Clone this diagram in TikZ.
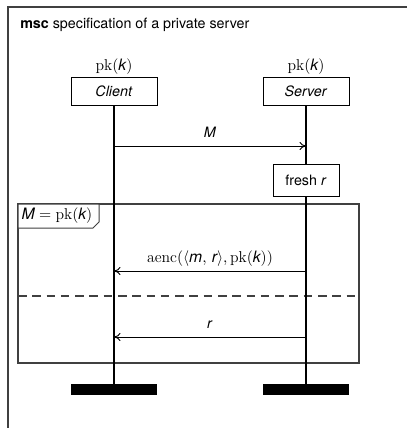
\documentclass[tikz,border=0pt]{standalone}
\usepackage{fontspec}
\setsansfont{TeX Gyre Heros}
\usepackage{tikz}
\usetikzlibrary{positioning, arrows.meta, calc}

\begin{document}
\begin{tikzpicture}[x=0.7pt, y=-0.7pt, font=\sffamily,
    inst/.style={rectangle, draw, line width=0.6pt, minimum width=60.2pt, minimum height=19.6pt, inner sep=0pt},
    action/.style={rectangle, draw, line width=0.6pt, minimum width=46.2pt, minimum height=22.4pt, inner sep=0pt, fill=white},
    bar/.style={rectangle, fill=black, minimum width=60.2pt, minimum height=7.7pt, inner sep=0pt},
    life/.style={line width=1.6pt},
    frameline/.style={line width=0.8pt, draw=black!75},
    msg/.style={-{To[length=1.6mm, width=2mm]}, line width=0.7pt},
    lbl/.style={above=5.5pt, text depth=0pt, inner sep=0pt},
    mth/.style={font=\sffamily\fontsize{11}{13}\selectfont}
]
\useasboundingbox (0,0) rectangle (407,428);
\clip (0,0) rectangle (407,428);

% outer frame
\draw[frameline, line width=1pt] (8,7) rectangle (440,460);
\node[anchor=base west, inner sep=0pt] (title) at (20,28) {\textbf{msc} specification of a private server};

% instances
\node[inst] (client) at (114,91) {\textit{Client}};
\node[inst] (server) at (306,91) {\textit{Server}};
\node[mth, above=1pt of client, inner sep=0pt] (ckey) {$\mathrm{pk}(\textit{k})$};
\node[mth, above=1pt of server, inner sep=0pt] (skey) {$\mathrm{pk}(\textit{k})$};

\node[bar] (cbar) at (114,389.5) {};
\node[bar] (sbar) at (306,389.5) {};

% inline expression
\draw[frameline] (18,204) rectangle (359,363);
\draw[frameline, dashed, dash pattern=on 6pt off 4pt] (18,296) -- (359,296);
\draw[frameline, line width=0.7pt, fill=white] (18,204) -- (99,204) -- (99,222) -- (93,228) -- (18,228) -- cycle;
\node[mth] (cond) at (57,216) {$\textit{M} = \mathrm{pk}(\textit{k})$};

\node[action] (fresh) at (306,180) {fresh \textit{r}};

% lifelines
\draw[life] (client) -- (cbar);
\draw[life] (server) -- (fresh);
\draw[life] (fresh) -- (sbar);

% messages
\coordinate (c1) at (114,146);
\coordinate (s1) at (306,146);
\coordinate (c2) at (114,271);
\coordinate (s2) at (306,271);
\coordinate (c3) at (114,337);
\coordinate (s3) at (306,337);

\draw[msg] (c1) -- node[lbl] {\textit{M}} (s1);
\draw[msg] (s2) -- node[lbl, mth] {$\mathrm{aenc}(\langle\textit{m},\,\textit{r}\rangle,\mathrm{pk}(\textit{k}))$} (c2);
\draw[msg] (s3) -- node[lbl] {\textit{r}} (c3);

\end{tikzpicture}
\end{document}
